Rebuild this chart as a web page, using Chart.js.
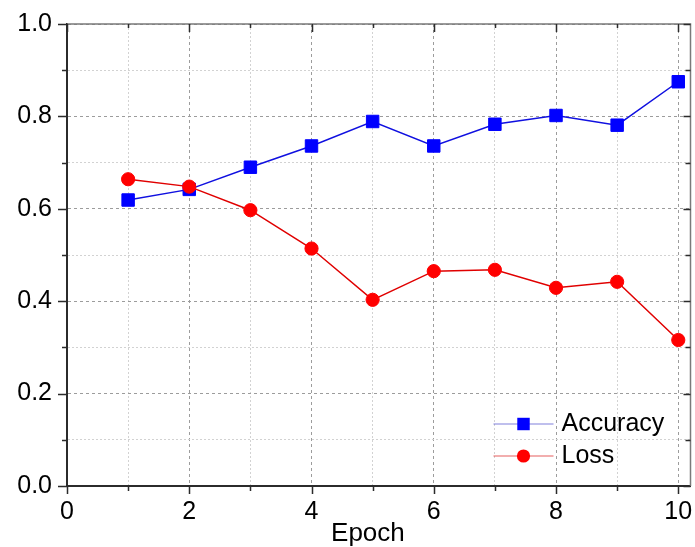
<!DOCTYPE html>
<html>
<head>
<meta charset="utf-8">
<script src="https://cdn.jsdelivr.net/npm/chart.js@4/dist/chart.umd.min.js"></script>
<style>
  html, body { margin: 0; padding: 0; background: #fff; }
  #wrap { width: 695px; height: 547px; }
</style>
</head>
<body>
<div id="wrap"><canvas id="c" width="695" height="547"></canvas></div>
<script>
// Training history per epoch
const epochs = [1, 2, 3, 4, 5, 6, 7, 8, 9, 10];
const accuracy = [0.619, 0.642, 0.690, 0.736, 0.789, 0.736, 0.783, 0.802, 0.781, 0.875];
const loss = [0.664, 0.648, 0.597, 0.514, 0.403, 0.465, 0.468, 0.429, 0.442, 0.316];

// Axis ticks (labels only on the even ones)
const xTicks = [0, 1, 2, 3, 4, 5, 6, 7, 8, 9, 10];
const yTicks = [0, 0.1, 0.2, 0.3, 0.4, 0.5, 0.6, 0.7, 0.8, 0.9, 1.0];

const FONT = '"Liberation Sans", Arial, sans-serif';
const AXIS = '#2b2b2b';

const isMajorX = v => Math.round(v) % 2 === 0;
const isMajorY = v => Math.round(v * 10) % 2 === 0;

// Keep tick labels from shrinking the plot area
const noPadding = () => ({ left: 0, top: 0, right: 0, bottom: 0 });

// Frame, inward/outward tick marks
const frameTicks = {
  id: 'frameTicks',
  afterDraw(chart) {
    const { ctx, chartArea: a, scales: { x, y } } = chart;
    ctx.save();
    ctx.strokeStyle = '#7a7a7a';
    ctx.lineWidth = 1.5;
    ctx.beginPath();
    ctx.moveTo(a.left, a.top);
    ctx.lineTo(a.right, a.top);
    ctx.lineTo(a.right, a.bottom);
    ctx.stroke();

    ctx.strokeStyle = AXIS;
    ctx.lineWidth = 1.5;
    ctx.beginPath();
    yTicks.forEach(v => {
      const py = Math.round(y.getPixelForValue(v)) + 0.5;
      const out = isMajorY(v) ? 9 : 5;
      const inn = isMajorY(v) ? 7 : 5;
      ctx.moveTo(a.left - out, py); ctx.lineTo(a.left, py);
      ctx.moveTo(a.right, py); ctx.lineTo(a.right - inn, py);
    });
    xTicks.forEach(v => {
      const px = Math.round(x.getPixelForValue(v)) + 0.5;
      const out = isMajorX(v) ? 8 : 5;
      const inn = isMajorX(v) ? 8 : 4;
      ctx.moveTo(px, a.bottom); ctx.lineTo(px, a.bottom + out);
      ctx.moveTo(px, a.top); ctx.lineTo(px, a.top + inn);
    });
    ctx.stroke();
    ctx.restore();
  }
};

// Legend box with line + marker samples
const lineLegend = {
  id: 'lineLegend',
  afterDraw(chart) {
    const { ctx, chartArea: a } = chart;
    const rows = [
      { ds: chart.data.datasets[1], dy: -62, shape: 'rect' },
      { ds: chart.data.datasets[0], dy: -30, shape: 'circle' }
    ];
    ctx.save();
    rows.forEach(r => {
      const yy = a.bottom + r.dy;
      const x0 = a.right - 197, x1 = a.right - 137, xm = (x0 + x1) / 2;
      ctx.strokeStyle = r.ds.legendLine;
      ctx.lineWidth = 1.2;
      ctx.beginPath();
      ctx.moveTo(x0, yy); ctx.lineTo(x1, yy);
      ctx.stroke();
      ctx.fillStyle = r.ds.pointBackgroundColor;
      ctx.beginPath();
      if (r.shape === 'rect') {
        const s = r.ds.pointRadius * Math.SQRT1_2;
        ctx.rect(xm - s, yy - s, 2 * s, 2 * s);
      } else {
        ctx.arc(xm, yy, r.ds.pointRadius, 0, Math.PI * 2);
      }
      ctx.fill();
      ctx.fillStyle = '#000';
      ctx.font = '25px ' + FONT;
      ctx.textBaseline = 'middle';
      ctx.textAlign = 'left';
      ctx.fillText(r.ds.label, a.right - 129, yy);
    });
    ctx.restore();
  }
};

new Chart(document.getElementById('c'), {
  type: 'line',
  data: {
    labels: epochs,
    datasets: [
      {
        label: 'Loss',
        data: epochs.map((e, i) => ({ x: e, y: loss[i] })),
        borderColor: '#e00000',
        borderWidth: 1.5,
        pointStyle: 'circle',
        pointRadius: 6.6,
        pointBackgroundColor: '#ff0000',
        pointBorderColor: '#ff0000',
        pointBorderWidth: 1,
        legendLine: 'rgba(220,40,40,0.75)',
        order: 0
      },
      {
        label: 'Accuracy',
        data: epochs.map((e, i) => ({ x: e, y: accuracy[i] })),
        borderColor: '#1010e0',
        borderWidth: 1.5,
        pointStyle: 'rect',
        pointRadius: 8.8,
        pointBackgroundColor: '#0000ff',
        pointBorderColor: '#0000ff',
        pointBorderWidth: 1,
        legendLine: 'rgba(60,60,200,0.65)',
        order: 1
      }
    ]
  },
  options: {
    responsive: false,
    animation: false,
    layout: { autoPadding: false, padding: { left: 0, top: 24, right: 4.5, bottom: 0 } },
    plugins: { legend: { display: false }, tooltip: { enabled: false } },
    scales: {
      x: {
        type: 'linear',
        min: 0,
        max: 10.2,
        afterBuildTicks: s => { s.ticks = xTicks.map(v => ({ value: v })); },
        afterFit: s => {
          s.height = 61;
          s.paddingLeft = 0; s.paddingRight = 0;
          s.getPadding = noPadding;
        },
        grid: {
          drawTicks: false,
          lineWidth: 1,
          color: c => (c.tick && isMajorX(c.tick.value)) ? '#9c9c9c' : '#d2d2d2'
        },
        border: {
          display: true,
          color: AXIS,
          width: 2,
          dash: c => c.tick ? (isMajorX(c.tick.value) ? [3, 3] : [2, 2]) : []
        },
        ticks: {
          padding: 11,
          color: '#000',
          font: { family: FONT, size: 25 },
          maxRotation: 0,
          autoSkip: false,
          callback: v => isMajorX(v) ? String(v) : ''
        },
        title: {
          display: true,
          // trailing no-break spaces nudge the centred title slightly left
          text: 'Epoch\u00a0\u00a0\u00a0',
          color: '#000',
          font: { family: FONT, size: 26, lineHeight: 1 },
          padding: { top: 0, bottom: 0 }
        }
      },
      y: {
        min: 0,
        max: 1,
        afterBuildTicks: s => { s.ticks = yTicks.map(v => ({ value: v })); },
        afterFit: s => {
          s.width = 67;
          s.paddingTop = 0; s.paddingBottom = 0;
          s.getPadding = noPadding;
        },
        grid: {
          drawTicks: false,
          lineWidth: 1,
          color: c => (c.tick && isMajorY(c.tick.value)) ? '#9c9c9c' : '#d2d2d2'
        },
        border: {
          display: true,
          color: AXIS,
          width: 2,
          dash: c => c.tick ? (isMajorY(c.tick.value) ? [3, 3] : [2, 2]) : []
        },
        ticks: {
          padding: 15,
          color: '#000',
          font: { family: FONT, size: 25 },
          autoSkip: false,
          callback: v => isMajorY(v) ? v.toFixed(1) : ''
        }
      }
    }
  },
  plugins: [frameTicks, lineLegend]
});
</script>
</body>
</html>
